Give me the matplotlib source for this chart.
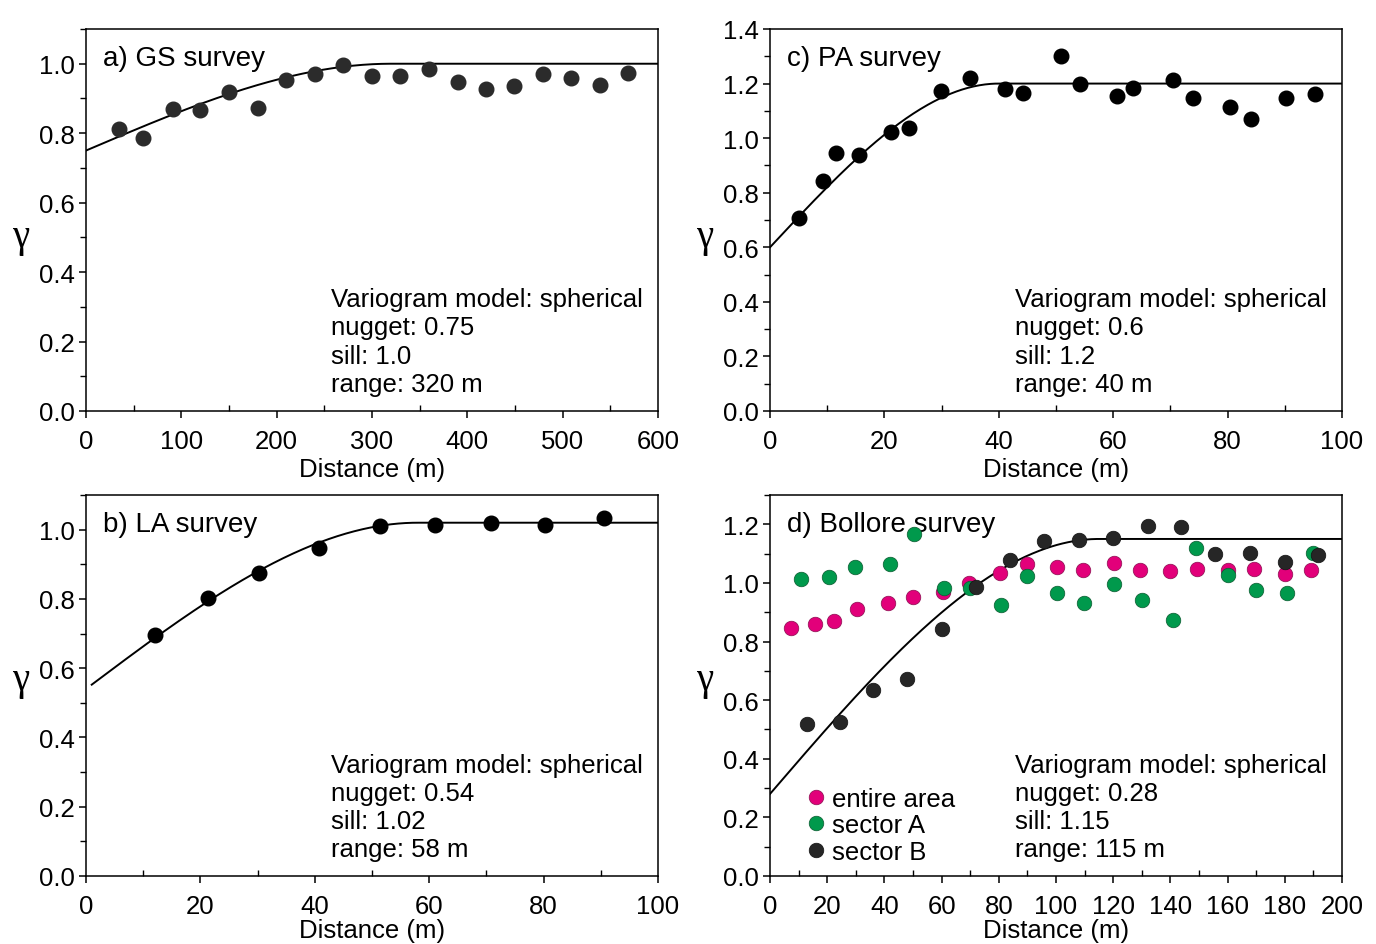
import numpy as np
import matplotlib.pyplot as plt
from matplotlib.ticker import MultipleLocator

plt.rcParams['font.family'] = ['Liberation Sans', 'DejaVu Sans']

# a) GS survey
gs_x = [35, 60, 91, 120, 150, 180, 210, 240, 270, 300, 329, 360, 390, 420, 449, 479, 509, 539, 569]
gs_y = [0.812, 0.785, 0.871, 0.867, 0.919, 0.873, 0.952, 0.971, 0.997, 0.965, 0.964, 0.985,
        0.946, 0.926, 0.936, 0.969, 0.959, 0.940, 0.974]

# c) PA survey
pa_x = [5.1, 9.3, 11.5, 15.5, 21.1, 24.3, 29.9, 34.9, 41.0, 44.3, 50.9, 54.2, 60.6, 63.5,
        70.5, 74.0, 80.5, 84.1, 90.2, 95.3]
pa_y = [0.708, 0.842, 0.944, 0.937, 1.023, 1.038, 1.171, 1.219, 1.179, 1.167, 1.302, 1.200,
        1.154, 1.182, 1.214, 1.148, 1.114, 1.070, 1.147, 1.162]

# b) LA survey
la_x = [12.0, 21.4, 30.3, 40.8, 51.4, 61.0, 70.8, 80.2, 90.5]
la_y = [0.695, 0.804, 0.876, 0.947, 1.011, 1.014, 1.020, 1.012, 1.033]

# d) Bollore survey
all_x = [7.5, 15.7, 22.3, 30.4, 41.2, 50.0, 60.5, 69.7, 80.4, 90.0, 100.4, 109.3, 120.3,
         129.5, 140.0, 149.3, 160.0, 169.3, 180.0, 189.0]
all_y = [0.845, 0.861, 0.870, 0.911, 0.930, 0.952, 0.970, 0.999, 1.034, 1.064, 1.053, 1.045,
         1.067, 1.043, 1.039, 1.048, 1.045, 1.048, 1.030, 1.045]
secA_x = [10.7, 20.5, 29.7, 41.9, 50.5, 60.8, 70.0, 80.7, 90.0, 100.5, 109.7, 120.4, 129.9,
          140.8, 149.0, 160.3, 169.9, 180.8, 189.9]
secA_y = [1.014, 1.019, 1.053, 1.064, 1.167, 0.983, 0.983, 0.925, 1.023, 0.966, 0.933, 0.997,
          0.943, 0.872, 1.119, 1.026, 0.977, 0.967, 1.102]
secB_x = [13.1, 24.4, 36.1, 48.0, 60.0, 72.1, 83.9, 95.9, 108.1, 120.1, 132.0, 143.7, 155.7,
          167.7, 180.0, 191.7]
secB_y = [0.517, 0.526, 0.633, 0.673, 0.844, 0.986, 1.077, 1.142, 1.147, 1.153, 1.194, 1.191,
          1.100, 1.102, 1.073, 1.094]

# model parameters: nugget, sill, range, x start, x end
models = {
    'a': (0.75, 1.0, 320, 0, 600),
    'c': (0.6, 1.2, 40, 0, 100),
    'b': (0.54, 1.02, 58, 1, 100),
    'd': (0.28, 1.15, 115, 0, 200),
}

def spherical(h, c0, c, a):
    h = np.asarray(h, float)
    r = np.minimum(h / a, 1.0)
    return c0 + (c - c0) * (1.5 * r - 0.5 * r ** 3)

W, H = 1376, 945
fig = plt.figure(figsize=(W / 100, H / 100), dpi=100)

def make_ax(l, r, t, b):
    return fig.add_axes([l / W, 1 - b / H, (r - l) / W, (b - t) / H])

axa = make_ax(86, 658, 30, 412)
axc = make_ax(770, 1342, 30, 412)
axb = make_ax(86, 658, 496, 877)
axd = make_ax(770, 1342, 496, 877)

FS = 18.5

def style(ax, xmax, xmaj, xmin, ymax, ymaj, title, key, txt, gy, lp):
    ax.set_xlim(0, xmax)
    ax.set_ylim(0, ymax)
    ax.xaxis.set_major_locator(MultipleLocator(xmaj))
    ax.xaxis.set_minor_locator(MultipleLocator(xmin))
    ax.yaxis.set_major_locator(MultipleLocator(ymaj))
    ax.yaxis.set_minor_locator(MultipleLocator(0.1))
    ax.tick_params(axis='both', which='major', labelsize=FS, length=5, width=1.1,
                   direction='out', pad=3)
    ax.tick_params(axis='x', which='major', pad=8)
    ax.tick_params(axis='x', which='minor', length=4, width=1.0, direction='in')
    ax.tick_params(axis='y', which='minor', length=4, width=1.0, direction='out')
    ax.yaxis.set_major_formatter(plt.FuncFormatter(lambda v, p: f'{v:.1f}'))
    for s in ax.spines.values():
        s.set_linewidth(1.1)
    ax.set_xlabel('Distance (m)', fontsize=FS, labelpad=lp)
    ax.text(-0.115, gy, 'γ', transform=ax.transAxes, fontsize=28,
            family='Liberation Serif', ha='center', va='center')
    ax.text(0.03, 0.925, title, transform=ax.transAxes, fontsize=20, va='center', ha='left')
    ax.text(0.428, 0.324, txt, transform=ax.transAxes, fontsize=FS, va='top', ha='left',
            linespacing=1.22)
    c0, c, a, x0, x1 = models[key]
    hx = np.linspace(x0, x1, 400)
    ax.plot(hx, spherical(hx, c0, c, a), color='black', lw=1.4, zorder=2)

style(axa, 600, 100, 50, 1.1, 0.2, 'a) GS survey', 'a',
      'Variogram model: spherical\nnugget: 0.75\nsill: 1.0\nrange: 320 m', 0.458, 3)
axa.plot(gs_x, gs_y, 'o', color='#2b2b2b', ms=10.5, mec='#2b2b2b', zorder=3)

style(axc, 100, 20, 10, 1.4, 0.2, 'c) PA survey', 'c',
      'Variogram model: spherical\nnugget: 0.6\nsill: 1.2\nrange: 40 m', 0.458, 3)
axc.plot(pa_x, pa_y, 'o', color='black', ms=10.5, zorder=3)

style(axb, 100, 20, 10, 1.1, 0.2, 'b) LA survey', 'b',
      'Variogram model: spherical\nnugget: 0.54\nsill: 1.02\nrange: 58 m', 0.517, 0)
axb.plot(la_x, la_y, 'o', color='black', ms=10.5, zorder=3)

style(axd, 200, 20, 10, 1.3, 0.2, 'd) Bollore survey', 'd',
      'Variogram model: spherical\nnugget: 0.28\nsill: 1.15\nrange: 115 m', 0.517, 0)
axd.plot(all_x, all_y, 'o', color='#e2007a', ms=10.5, mec='#8a1050', mew=0.5, zorder=3,
         label='entire area')
axd.plot(secA_x, secA_y, 'o', color='#00994c', ms=10.5, mec='#0b5a30', mew=0.5, zorder=3,
         label='sector A')
axd.plot(secB_x, secB_y, 'o', color='#262626', ms=10.5, mec='#111111', mew=0.5, zorder=4,
         label='sector B')
axd.legend(loc='lower left', bbox_to_anchor=(0.035, -0.015), frameon=False, fontsize=FS,
           handlelength=0.6, handletextpad=0.35, labelspacing=0.1, borderaxespad=0.3)

fig.savefig('out.png', dpi=100)
